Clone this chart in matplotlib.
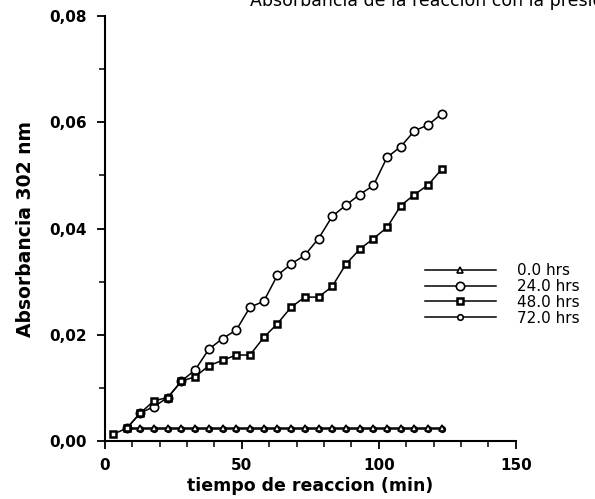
import matplotlib
matplotlib.use("Agg")
import matplotlib.pyplot as plt
from matplotlib.ticker import MultipleLocator, FuncFormatter

# tiempo (min)
t_0h = [8, 13, 18, 23, 28, 33, 38, 43, 48, 53, 58, 63, 68, 73, 78, 83,
        88, 93, 98, 103, 108, 113, 118, 123]
a_0h = [0.0024] * len(t_0h)

t_24h = [8, 13, 18, 23, 28, 33, 38, 43, 48, 53, 58, 63, 68, 73, 78, 83,
         88, 93, 98, 103, 108, 113, 118, 123]
a_24h = [0.0024, 0.0053, 0.0065, 0.0082, 0.0113, 0.0134, 0.0173, 0.0193,
         0.0209, 0.0252, 0.0263, 0.0312, 0.0333, 0.0350, 0.0381, 0.0423,
         0.0444, 0.0464, 0.0481, 0.0534, 0.0554, 0.0584, 0.0595, 0.0616]

t_48h = [3, 8, 13, 18, 23, 28, 33, 38, 43, 48, 53, 58, 63, 68, 73, 78, 83,
         88, 93, 98, 103, 108, 113, 118, 123]
a_48h = [0.0013, 0.0024, 0.0053, 0.0076, 0.0082, 0.0113, 0.0121, 0.0142,
         0.0152, 0.0162, 0.0162, 0.0195, 0.0221, 0.0252, 0.0271, 0.0271,
         0.0291, 0.0333, 0.0361, 0.0381, 0.0402, 0.0443, 0.0464, 0.0482,
         0.0512]

t_72h = t_0h
a_72h = [0.0023] * len(t_72h)

labels = ["0.0 hrs", "24.0 hrs", "48.0 hrs", "72.0 hrs"]

plt.rcParams['font.family'] = ['DejaVu Sans']

fig = plt.figure(figsize=(5.95, 4.99), dpi=100)
ax = fig.add_axes([0.176, 0.116, 0.691, 0.852])

lw = 1.1
ax.plot(t_72h, a_72h, '-', color='k', lw=lw, marker='o', ms=4,
        mfc='white', mec='k', mew=1.2, label=labels[3])
ax.plot(t_0h, a_0h, '-', color='k', lw=lw, marker='^', ms=5,
        mfc='white', mec='k', mew=1.2, label=labels[0])
ax.plot(t_24h, a_24h, '-', color='k', lw=lw, marker='o', ms=6,
        mfc='white', mec='k', mew=1.2, label=labels[1])
ax.plot(t_48h, a_48h, '-', color='k', lw=lw, marker='s', ms=5,
        mfc='white', mec='k', mew=1.8, label=labels[2])

ax.set_xlim(0, 150)
ax.set_ylim(0, 0.08)
ax.spines['top'].set_visible(False)
ax.spines['right'].set_visible(False)
ax.spines['left'].set_linewidth(1.5)
ax.spines['bottom'].set_linewidth(1.5)

ax.xaxis.set_major_locator(MultipleLocator(50))
ax.xaxis.set_minor_locator(MultipleLocator(10))
ax.yaxis.set_major_locator(MultipleLocator(0.02))
ax.yaxis.set_minor_locator(MultipleLocator(0.01))
ax.yaxis.set_major_formatter(FuncFormatter(lambda v, p: f"{v:.2f}".replace('.', ',')))
ax.tick_params(which='major', direction='out', length=6, width=1.3, labelsize=11)
ax.tick_params(axis='y', which='major', pad=7)
ax.tick_params(axis='x', which='major', pad=6)
ax.tick_params(which='minor', direction='out', length=4, width=1.1)
for lab in ax.get_xticklabels() + ax.get_yticklabels():
    lab.set_fontweight('bold')

ax.set_xlabel("tiempo de reaccion (min)", fontsize=12.5, fontweight='bold', labelpad=3)
ax.set_ylabel("Absorbancia 302 nm", fontsize=13.5, fontweight='bold', labelpad=10)

h, l = ax.get_legend_handles_labels()
order = [1, 2, 3, 0]
leg = ax.legend([h[i] for i in order], [l[i] for i in order],
                loc='center left', bbox_to_anchor=(0.765, 0.345),
                frameon=False, handlelength=4.6, handletextpad=1.4,
                labelspacing=0.05, borderaxespad=0, prop={'size': 11})

fig.text(0.42, 0.998, "Absorbancia de la reaccion con la presion vac",
         fontsize=12.5, va='center', ha='left')

fig.savefig("out.png", dpi=100)
